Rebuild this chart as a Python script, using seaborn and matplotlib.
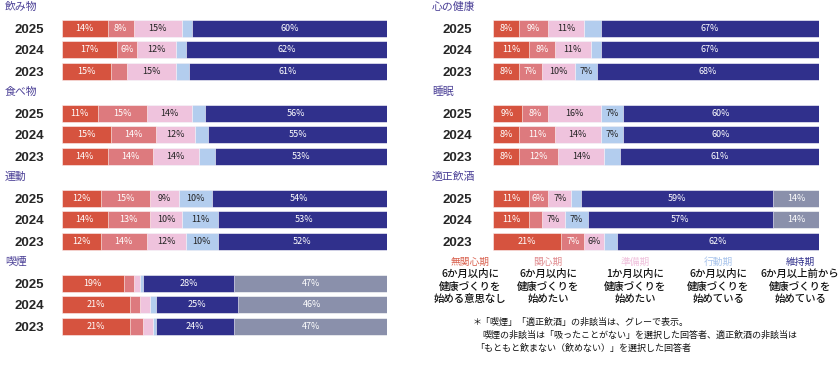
import pandas as pd
import matplotlib
matplotlib.use("Agg")
import matplotlib.pyplot as plt
import seaborn as sns

sns.set_style("white")
plt.rcParams['font.family'] = ['Noto Sans CJK JP', 'DejaVu Sans']

# years shown top to bottom
years = ["2025", "2024", "2023"]

# stage names (legend) and the grey "not applicable" part
stages = ["無関心期", "関心期", "準備期", "行動期", "維持期", "非該当"]
stage_notes = [
    ["6か月以内に", "健康づくりを", "始める意思なし"],
    ["6か月以内に", "健康づくりを", "始めたい"],
    ["1か月以内に", "健康づくりを", "始めたい"],
    ["6か月以内に", "健康づくりを", "始めている"],
    ["6か月以上前から", "健康づくりを", "始めている"],
]

# percentages per year (2025, 2024, 2023), in stage order
drinks = [[14, 8, 15, 3, 60, 0], [17, 6, 12, 3, 62, 0], [15, 5, 15, 4, 61, 0]]
food = [[11, 15, 14, 4, 56, 0], [15, 14, 12, 4, 55, 0], [14, 14, 14, 5, 53, 0]]
exercise = [[12, 15, 9, 10, 54, 0], [14, 13, 10, 11, 53, 0], [12, 14, 12, 10, 52, 0]]
smoking = [[19, 3, 2, 1, 28, 47], [21, 3, 3, 2, 25, 46], [21, 4, 3, 1, 24, 47]]
mental = [[8, 9, 11, 5, 67, 0], [11, 8, 11, 3, 67, 0], [8, 7, 10, 7, 68, 0]]
sleep = [[9, 8, 16, 7, 60, 0], [8, 11, 14, 7, 60, 0], [8, 12, 14, 5, 61, 0]]
alcohol = [[11, 6, 7, 3, 59, 14], [11, 4, 7, 7, 57, 14], [21, 7, 6, 4, 62, 0]]

panels = [
    ("飲み物", drinks), ("食べ物", food), ("運動", exercise), ("喫煙", smoking),
    ("心の健康", mental), ("睡眠", sleep), ("適正飲酒", alcohol),
]

colors = ["#d6533f", "#dd7a7e", "#efc3dd", "#b3cdee", "#30308c", "#8a90ab"]
label_colors = ["white", "white", "#222222", "#222222", "white", "white"]
legend_colors = ["#d9604d", "#e08a8e", "#f0c0dc", "#a8c4ec", "#30308c"]
title_color = "#4a3f96"

W, H = 840, 370
fig = plt.figure(figsize=(W / 100, H / 100), dpi=100)


def px_axes(x0, y0, w, h):
    return fig.add_axes([x0 / W, 1 - (y0 + h) / H, w / W, h / H])


for k, (name, rows) in enumerate(panels):
    col = 0 if k < 4 else 1
    r = k if k < 4 else k - 4
    bar_x = 62 if col == 0 else 493
    bar_w = 325 if col == 0 else 326
    top = 17.5 + 85 * r
    ax = px_axes(bar_x, top, bar_w, 64.5)

    df = pd.DataFrame(rows, columns=stages, index=years)
    cum = df.cumsum(axis=1)
    # draw right edges from last stage to first so each part covers the next
    for j in range(len(stages) - 1, -1, -1):
        if df.iloc[:, j].sum() == 0:
            continue
        sns.barplot(x=cum.iloc[:, j].values, y=years, order=years, orient="h",
                    color=colors[j], width=0.8, edgecolor="white", linewidth=0.4,
                    saturation=1, ax=ax)
    for i, yr in enumerate(years):
        left = 0
        for j, st in enumerate(stages):
            v = df.loc[yr, st]
            if v >= 6:
                ax.text(left + v / 2, i, f"{v}%", ha="center", va="center",
                        fontsize=6.5, color=label_colors[j])
            left += v

    ax.set_xlim(0, 100)
    ax.set_ylim(2.5, -0.5)
    ax.set_xlabel("")
    ax.set_ylabel("")
    ax.set_xticks([])
    ax.tick_params(axis="y", length=0, pad=13 if col == 0 else 15)
    for lab in ax.get_yticklabels():
        lab.set_family(["Liberation Sans", "DejaVu Sans"])
        lab.set_fontweight("bold")
        lab.set_fontsize(9.5)
    sns.despine(ax=ax, left=True, bottom=True)

    tx = 5 if col == 0 else 432
    fig.text(tx / W, 1 - (7 + 85 * r) / H, name, fontsize=7.8,
             color=title_color, va="center", ha="left")

# legend block
legend_x = [470, 548, 635, 718, 800]
for j, xc in enumerate(legend_x):
    fig.text(xc / W, 1 - 262 / H, stages[j], fontsize=7, color=legend_colors[j],
             ha="center", va="center")
    for n, line in enumerate(stage_notes[j]):
        fig.text(xc / W, 1 - (274 + 12.5 * n) / H, line, fontsize=7.5,
                 color="#111111", ha="center", va="center", fontweight="medium")

notes = [
    (473, 322, "＊「喫煙」「適正飲酒」の非該当は、グレーで表示。"),
    (482, 335, "喫煙の非該当は「吸ったことがない」を選択した回答者、適正飲酒の非該当は"),
    (475, 348, "「もともと飲まない（飲めない）」を選択した回答者"),
]
for x, y, t in notes:
    fig.text(x / W, 1 - y / H, t, fontsize=6.5, color="#111111", va="center", ha="left")

fig.savefig("out.png", dpi=100)
